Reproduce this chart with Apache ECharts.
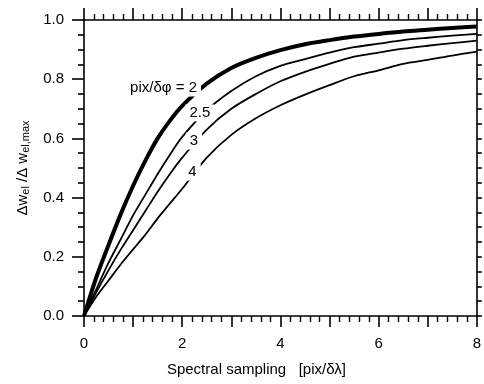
<!DOCTYPE html>
<html>
<head>
<meta charset="utf-8">
<script src="https://cdn.jsdelivr.net/npm/echarts@6/dist/echarts.min.js"></script>
<style>
html,body{margin:0;padding:0;background:#fff;}
#c{width:484px;height:384px;}
</style>
</head>
<body>
<div id="c"></div>
<script>
// Spectral sampling values (pix/δλ)
const xs = [0, 0.25, 0.5, 0.75, 1, 1.25, 1.5, 1.75, 2, 2.5, 3, 3.5, 4, 4.5, 5, 5.5, 6, 6.5, 7, 7.5, 8];
// Δw_el/Δw_el,max for each pix/δφ
const y2   = [0, 0.13, 0.24, 0.345, 0.44, 0.525, 0.6, 0.66, 0.71, 0.785, 0.838, 0.872, 0.898, 0.918, 0.932, 0.944, 0.953, 0.961, 0.967, 0.973, 0.978];
const y2_5 = [0, 0.09, 0.18, 0.26, 0.34, 0.41, 0.48, 0.545, 0.605, 0.695, 0.76, 0.81, 0.845, 0.868, 0.89, 0.908, 0.92, 0.932, 0.94, 0.947, 0.953];
const y3   = [0, 0.08, 0.155, 0.225, 0.29, 0.355, 0.42, 0.48, 0.535, 0.63, 0.70, 0.75, 0.793, 0.825, 0.852, 0.876, 0.89, 0.903, 0.913, 0.922, 0.93];
const y4   = [0, 0.065, 0.12, 0.175, 0.225, 0.275, 0.33, 0.38, 0.43, 0.535, 0.612, 0.668, 0.712, 0.748, 0.78, 0.81, 0.83, 0.852, 0.865, 0.88, 0.893];
// curve labels: [x, y, text]
const curveLabels = [
  [1.62, 0.77, 'pix/δφ = 2'],
  [2.36, 0.686, '2.5'],
  [2.24, 0.591, '3'],
  [2.21, 0.486, '4']
];
const xTicks = [0, 2, 4, 6, 8];

const FONT = 'Liberation Sans, Arial, sans-serif';
const pair = (ys) => xs.map((x, i) => [x, ys[i]]);
const lineS = (name, ys, w) => ({
  name, type: 'line', data: pair(ys), showSymbol: false, smooth: 0.3,
  lineStyle: { color: '#000', width: w }, z: 2, silent: true
});

const axisCommon = {
  axisLine: { show: true, onZero: false, lineStyle: { color: '#000', width: 1.6 } },
  splitLine: { show: false },
  minorSplitLine: { show: false }
};

const chart = echarts.init(document.getElementById('c'));
chart.setOption({
  animation: false,
  backgroundColor: '#fff',
  grid: { left: 84, right: 6, top: 20, bottom: 68, containLabel: false },
  xAxis: [
    Object.assign({}, axisCommon, {
      type: 'value', min: 0, max: 8, interval: 1, position: 'bottom',
      axisTick: { show: true, inside: false, length: 11, lineStyle: { color: '#000', width: 1.6 } },
      minorTick: { show: true, splitNumber: 5, length: 6, lineStyle: { color: '#000', width: 1.4 } },
      axisLabel: { show: true, margin: 20, color: '#000', fontSize: 15, fontFamily: FONT,
        formatter: v => xTicks.indexOf(v) >= 0 ? String(v) : '' },
      name: 'Spectral sampling   [pix/δλ]', nameLocation: 'middle', nameGap: 46,
      nameTextStyle: { color: '#000', fontSize: 15, fontFamily: FONT, padding: [0, 48, 0, 0] }
    }),
    Object.assign({}, axisCommon, {
      type: 'value', min: 0, max: 8, interval: 1, position: 'top',
      axisTick: { show: true, inside: false, length: 12, lineStyle: { color: '#000', width: 1.6 } },
      minorTick: { show: true, splitNumber: 5, length: 6, lineStyle: { color: '#000', width: 1.4 } },
      axisLabel: { show: false }
    })
  ],
  yAxis: [
    Object.assign({}, axisCommon, {
      type: 'value', min: 0, max: 1, interval: 0.2, position: 'left',
      axisTick: { show: true, inside: false, length: 12, lineStyle: { color: '#000', width: 1.6 } },
      minorTick: { show: true, splitNumber: 4, length: 6, lineStyle: { color: '#000', width: 1.6 } },
      axisLabel: { show: true, margin: 20, color: '#000', fontSize: 15, fontFamily: FONT,
        formatter: v => v.toFixed(1) },
      name: '{a|Δw}{s|el}{a| /Δ w}{s|el,max}', nameLocation: 'middle', nameGap: 52, nameRotate: 90,
      nameTextStyle: {
        color: '#000', fontFamily: FONT, fontSize: 15,
        rich: {
          a: { fontSize: 15, fontFamily: FONT, color: '#000', lineHeight: 18 },
          s: { fontSize: 11, fontFamily: FONT, color: '#000', lineHeight: 18, padding: [6, 0, 0, 0] }
        }
      }
    }),
    Object.assign({}, axisCommon, {
      type: 'value', min: 0, max: 1, interval: 0.2, position: 'right',
      axisTick: { show: true, inside: false, length: 5, lineStyle: { color: '#000', width: 1.6 } },
      minorTick: { show: true, splitNumber: 4, length: 5, lineStyle: { color: '#000', width: 1.6 } },
      axisLabel: { show: false }
    })
  ],
  series: [
    lineS('4', y4, 1.8),
    lineS('3', y3, 1.8),
    lineS('2.5', y2_5, 1.8),
    lineS('2', y2, 4),
    {
      name: 'labels', type: 'scatter', z: 10, silent: true,
      symbol: 'rect', symbolSize: 1,
      itemStyle: { color: '#fff', opacity: 1 },
      emphasis: { disabled: true },
      data: curveLabels.map(d => ({ value: d })),
      label: {
        show: true, position: 'inside', color: '#000', fontSize: 15, fontFamily: FONT,
        backgroundColor: '#fff', padding: [1, 4, 1, 4], opacity: 1,
        formatter: p => p.value[2]
      }
    }
  ]
});
</script>
</body>
</html>
